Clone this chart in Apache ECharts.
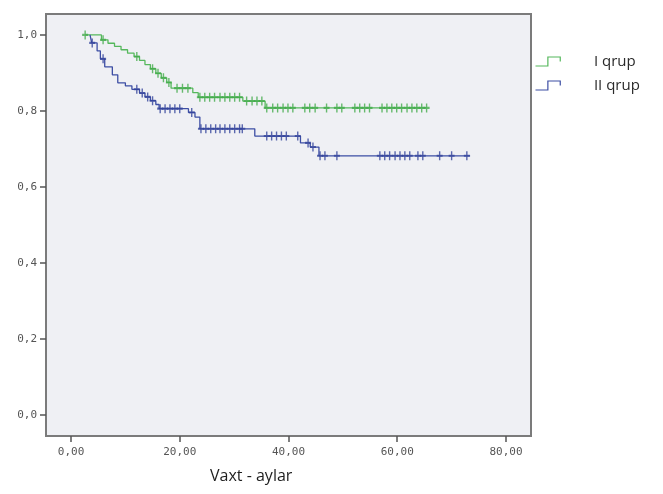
<!DOCTYPE html>
<html>
<head>
<meta charset="utf-8">
<script src="https://cdn.jsdelivr.net/npm/echarts@6/dist/echarts.min.js"></script>
<style>
  html, body { margin: 0; padding: 0; background: #ffffff; }
  #chart { width: 663px; height: 494px; }
</style>
</head>
<body>
<div id="chart"></div>
<script>
// Kaplan–Meier survival estimates, two groups (time in months)
const groupNames = ['I qrup', 'II qrup'];

// Group I: event times and survival after each step
const groupOneTimes = [2.6, 5.6, 6.8, 8.0, 9.2, 10.4, 11.6, 12.6, 13.6, 14.6, 15.6, 16.6, 17.6, 18.4, 22.4, 23.4, 31.6, 35.7, 65.4];
const groupOneSurv  = [1.0, 0.987, 0.978, 0.970, 0.961, 0.952, 0.943, 0.933, 0.922, 0.911, 0.899, 0.887, 0.875, 0.860, 0.848, 0.836, 0.826, 0.808, 0.808];
// Group I: censored observations
const groupOneCensored = [2.6, 5.9, 12.1, 15.0, 16.0, 17.0, 18.0, 19.5, 20.5, 21.5, 23.7, 24.6, 25.5, 26.4, 27.4, 28.3, 29.2, 30.1, 31.0, 32.3, 33.3, 34.2, 35.1, 36.0, 37.1, 38.0, 39.0, 39.9, 40.8, 43.0, 43.9, 44.9, 47.0, 48.9, 49.8, 52.2, 53.1, 54.0, 54.9, 57.2, 58.1, 59.0, 59.9, 60.8, 61.8, 62.7, 63.6, 64.5, 65.4];

// Group II: event times and survival after each step
const groupTwoTimes = [3.5, 3.8, 4.8, 5.4, 6.2, 7.6, 8.6, 10.0, 11.2, 12.6, 13.6, 14.6, 15.6, 16.2, 21.6, 22.8, 23.7, 33.8, 42.2, 44.0, 45.6, 73.4];
const groupTwoSurv  = [1.0, 0.979, 0.958, 0.937, 0.916, 0.895, 0.874, 0.866, 0.857, 0.847, 0.837, 0.827, 0.817, 0.806, 0.796, 0.784, 0.753, 0.734, 0.716, 0.705, 0.682, 0.682];
// Group II: censored observations
const groupTwoCensored = [3.9, 5.9, 12.1, 13.1, 14.1, 15.0, 16.4, 17.3, 18.2, 19.1, 20.0, 22.2, 23.9, 24.8, 25.7, 26.6, 27.4, 28.3, 29.2, 30.1, 31.0, 31.5, 36.0, 36.9, 37.8, 38.7, 39.6, 41.7, 43.6, 44.5, 45.8, 46.7, 48.9, 56.8, 57.7, 58.6, 59.6, 60.5, 61.4, 62.3, 63.8, 64.7, 67.8, 70.0, 72.8];

// Axis ticks
const xTicks = [0, 20, 40, 60, 80];
const yTicks = [0, 0.2, 0.4, 0.6, 0.8, 1.0];

const greenColor = '#55b85c';
const blueColor = '#3d4ea4';

function stepPoints(times, surv) {
  return times.map((t, i) => [t, surv[i]]);
}
// Survival value in effect at time t (right-continuous step function)
function survAt(times, surv, t) {
  let s = surv[0];
  for (let i = 0; i < times.length; i++) {
    if (times[i] <= t + 1e-9) s = surv[i];
  }
  return s;
}
function censorPoints(times, surv, cens) {
  return cens.map(t => [t, survAt(times, surv, t)]);
}

const censorSymbol = 'path://M5,0 L5,10 M2,5 L8,5';
const monoFont = '"DejaVu Sans Mono", "Liberation Mono", monospace';

const chart = echarts.init(document.getElementById('chart'), null, { renderer: 'canvas' });

chart.setOption({
  animation: false,
  backgroundColor: '#ffffff',
  grid: {
    left: 46, top: 14, right: 132, bottom: 58,
    show: true,
    backgroundColor: '#eff0f4',
    borderColor: '#7b7b7b',
    borderWidth: 2
  },
  legend: {
    orient: 'vertical',
    left: 533,
    top: 54,
    padding: 0,
    itemWidth: 26,
    itemHeight: 9,
    itemGap: 9,
    textStyle: {
      fontFamily: '"Open Sans", "Noto Sans", sans-serif',
      fontSize: 15,
      color: '#2a2a2a',
      padding: [0, 0, 0, 28]
    },
    data: [
      { name: groupNames[0], icon: 'path://M0,9 L11,9 L11,1 L22,1 L22,5',
        itemStyle: { color: 'none', borderColor: greenColor, borderWidth: 1.2 } },
      { name: groupNames[1], icon: 'path://M0,9 L11,9 L11,1 L22,1 L22,5',
        itemStyle: { color: 'none', borderColor: blueColor, borderWidth: 1.2 } }
    ]
  },
  xAxis: {
    type: 'value',
    min: -4.6,
    max: 84.6,
    splitLine: { show: false },
    axisLine: { show: true, onZero: false, lineStyle: { color: '#7b7b7b', width: 2 } },
    axisTick: { show: true, customValues: xTicks, length: 6, lineStyle: { color: '#555', width: 1.5 } },
    axisLabel: {
      customValues: xTicks,
      formatter: v => v.toFixed(2).replace('.', ','),
      fontFamily: monoFont,
      fontSize: 11,
      color: '#555555',
      margin: 11
    }
  },
  yAxis: {
    type: 'value',
    min: -0.055,
    max: 1.055,
    splitLine: { show: false },
    axisLine: { show: true, onZero: false, lineStyle: { color: '#7b7b7b', width: 2 } },
    axisTick: { show: true, customValues: yTicks, length: 6, lineStyle: { color: '#555', width: 1.5 } },
    axisLabel: {
      customValues: yTicks,
      formatter: v => v.toFixed(1).replace('.', ','),
      fontFamily: monoFont,
      fontSize: 11,
      color: '#555555',
      margin: 9
    }
  },
  graphic: [
    {
      type: 'text',
      left: 210,
      top: 468,
      style: {
        text: 'Vaxt - aylar',
        font: '16px "Open Sans", "Noto Sans", sans-serif',
        fill: '#1e1e1e'
      }
    }
  ],
  series: [
    {
      name: groupNames[0],
      type: 'line',
      step: 'end',
      data: stepPoints(groupOneTimes, groupOneSurv),
      showSymbol: false,
      lineStyle: { color: greenColor, width: 1.3 },
      itemStyle: { color: greenColor },
      z: 3
    },
    {
      name: groupNames[1],
      type: 'line',
      step: 'end',
      data: stepPoints(groupTwoTimes, groupTwoSurv),
      showSymbol: false,
      lineStyle: { color: blueColor, width: 1.3 },
      itemStyle: { color: blueColor },
      z: 3
    },
    {
      name: groupNames[0] + ' censored',
      type: 'scatter',
      data: censorPoints(groupOneTimes, groupOneSurv, groupOneCensored),
      symbol: censorSymbol,
      symbolSize: [6, 9],
      itemStyle: { color: 'none', borderColor: '#43ab4b', borderWidth: 1.7 },
      z: 4
    },
    {
      name: groupNames[1] + ' censored',
      type: 'scatter',
      data: censorPoints(groupTwoTimes, groupTwoSurv, groupTwoCensored),
      symbol: censorSymbol,
      symbolSize: [6, 9],
      itemStyle: { color: 'none', borderColor: '#33439b', borderWidth: 1.7 },
      z: 4
    }
  ]
});
</script>
</body>
</html>
